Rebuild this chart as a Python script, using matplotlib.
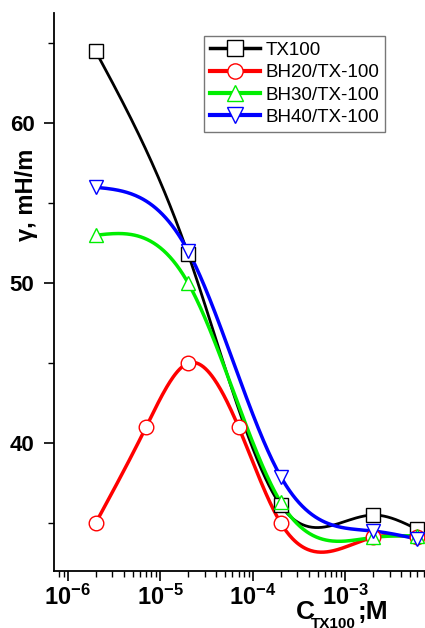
import numpy as np
import matplotlib
matplotlib.use("Agg")
import matplotlib.pyplot as plt
from matplotlib.ticker import LogLocator, FixedLocator, MultipleLocator, FuncFormatter

plt.rcParams['font.family'] = ['Liberation Sans', 'DejaVu Sans']
plt.rcParams['mathtext.fontset'] = 'custom'
plt.rcParams['mathtext.rm'] = 'Liberation Sans'
plt.rcParams['mathtext.bf'] = 'Liberation Sans:bold'
plt.rcParams['mathtext.it'] = 'Liberation Sans:italic'

# data
c_tx = [2e-6, 2e-5, 2e-4, 2e-3, 6e-3]
g_tx = [64.5, 51.8, 36.1, 35.5, 34.6]
c_bh20 = [2e-6, 7e-6, 2e-5, 7e-5, 2e-4, 2e-3, 6e-3]
g_bh20 = [35.0, 41.0, 45.0, 41.0, 35.0, 34.1, 34.1]
c_bh30 = [2e-6, 2e-5, 2e-4, 2e-3, 6e-3]
g_bh30 = [53.0, 50.0, 36.3, 34.1, 34.2]
c_bh40 = [2e-6, 2e-5, 2e-4, 2e-3, 6e-3]
g_bh40 = [56.0, 52.0, 37.9, 34.5, 34.0]
labels = ["TX100", "BH20/TX-100", "BH30/TX-100", "BH40/TX-100"]


def natural_spline(x, y, n=300):
	# smooth line through the points, in log10(x)
	x = np.asarray(x, float)
	y = np.asarray(y, float)
	k = len(x)
	h = np.diff(x)
	A = np.zeros((k, k))
	b = np.zeros(k)
	A[0, 0] = 1
	A[-1, -1] = 1
	for i in range(1, k-1):
		A[i, i-1] = h[i-1]
		A[i, i] = 2*(h[i-1]+h[i])
		A[i, i+1] = h[i]
		b[i] = 6*((y[i+1]-y[i])/h[i] - (y[i]-y[i-1])/h[i-1])
	m = np.linalg.solve(A, b)
	xs = np.linspace(x[0], x[-1], n)
	idx = np.clip(np.searchsorted(x, xs) - 1, 0, k-2)
	x0, x1 = x[idx], x[idx+1]
	hh = x1 - x0
	t0 = x1 - xs
	t1 = xs - x0
	ys = (m[idx]*t0**3 + m[idx+1]*t1**3)/(6*hh) \
		+ (y[idx]/hh - m[idx]*hh/6)*t0 + (y[idx+1]/hh - m[idx+1]*hh/6)*t1
	return xs, ys


fig = plt.figure(figsize=(4.25, 6.28), dpi=100)
ax = fig.add_axes([54/425, 1-571/628, 1-54/425, (571-13)/628])

series = [
	(c_tx, g_tx, 'black', 's', 2.0),
	(c_bh20, g_bh20, '#ff0000', 'o', 2.5),
	(c_bh30, g_bh30, '#00ee00', '^', 2.5),
	(c_bh40, g_bh40, '#0000ff', 'v', 2.5),
]
for (cx, gy, col, mk, lw), lab in zip(series, labels):
	xs, ys = natural_spline(np.log10(cx), gy)
	ax.plot(10**xs, ys, '-', color=col, lw=lw, zorder=2)
	ax.plot(cx, gy, linestyle='none', marker=mk, markersize=10.5, markerfacecolor='white',
		markeredgecolor=col, markeredgewidth=1.0, zorder=3)
	ax.plot([], [], '-', color=col, lw=lw + 0.5, marker=mk, markersize=11,
		markerfacecolor='white', markeredgecolor=col, markeredgewidth=1.0, label=lab)

ax.set_xscale('log')
ax.set_xlim(10**-6.15, 10**-2.14)
ax.set_ylim(32, 66.9)

ax.xaxis.set_major_locator(FixedLocator([1e-6, 1e-5, 1e-4, 1e-3]))
ax.xaxis.set_minor_locator(LogLocator(base=10, subs=np.arange(2, 10), numticks=20))
ax.xaxis.set_major_formatter(FuncFormatter(lambda v, p: r'$\mathbf{10^{%d}}$' % round(np.log10(v))))
ax.yaxis.set_major_locator(FixedLocator([40, 50, 60]))
ax.yaxis.set_minor_locator(MultipleLocator(5))

ax.tick_params(which='major', direction='out', length=7, width=1.2, pad=7)
ax.tick_params(which='minor', direction='out', length=4, width=1.0)
ax.tick_params(axis='y', which='major', labelsize=16)
ax.tick_params(axis='x', which='major', labelsize=17, pad=3)
for t in ax.get_yticklabels():
	t.set_fontweight('bold')

for s in ['top', 'right']:
	ax.spines[s].set_visible(False)
for s in ['left', 'bottom']:
	ax.spines[s].set_linewidth(1.3)

fig.text(27/425, 1-195/628, 'γ, mH/m', fontsize=17, fontweight='bold', rotation=90,
	ha='center', va='center')
fig.text(296/425, 1-619/628, 'C', fontsize=19, fontweight='bold', ha='left', va='baseline')
fig.text(311/425, 1-628/628, 'TX100', fontsize=11, fontweight='bold', ha='left', va='baseline')
fig.text(358/425, 1-619/628, ';M', fontsize=19, fontweight='bold', ha='left', va='baseline')

leg = ax.legend(loc='upper left', bbox_to_anchor=(204/425, 1-36/628), bbox_transform=fig.transFigure,
	fontsize=13.5, frameon=True, fancybox=False, edgecolor='#555555', handlelength=2.7,
	handletextpad=0.3, borderpad=0.3, labelspacing=0.28, borderaxespad=0)
leg.get_frame().set_linewidth(1.0)

fig.savefig('out.png', dpi=100)
